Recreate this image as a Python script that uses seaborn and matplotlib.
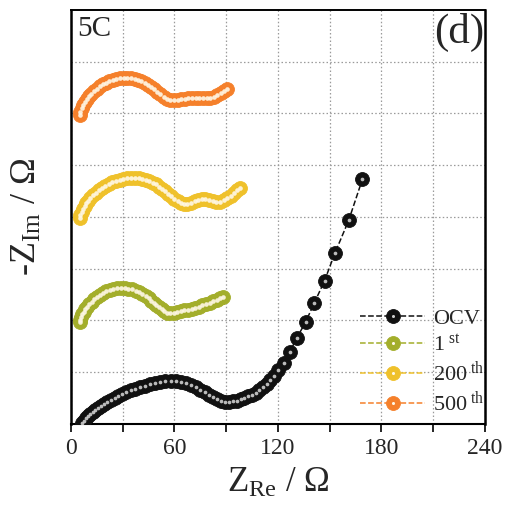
import numpy as np
import pandas as pd
import matplotlib
matplotlib.use('Agg')
import matplotlib.pyplot as plt
from matplotlib.lines import Line2D
from matplotlib.legend_handler import HandlerTuple
import seaborn as sns

# Nyquist data (Z_Re, -Z_Im), curves are stacked vertically
ocv_x = [6.5, 7.6, 8.8, 10.0, 11.3, 12.7, 14.2, 15.8, 17.5, 19.3, 21.2, 23.2, 25.3, 27.5, 29.8,
         32.2, 34.7, 37.3, 40.0, 42.8, 45.7, 48.7, 51.7, 54.8, 57.9, 61.0, 64.0, 66.9, 69.7, 72.4,
         75.0, 77.5, 79.9, 82.2, 84.5, 86.8, 89.1, 91.4, 93.7, 96.0, 98.3, 100.6, 102.8, 105.0,
         107.2, 109.3, 111.4, 113.5, 115.6, 117.8, 120.3, 123.4, 127, 131, 136, 141, 147, 153, 161, 169]
ocv_y = [0.8, 2.0, 3.2, 4.4, 5.6, 6.8, 8.0, 9.2, 10.4, 11.6, 12.8, 14.0, 15.2, 16.3, 17.4,
         18.5, 19.5, 20.5, 21.4, 22.3, 23.1, 23.8, 24.4, 24.8, 25.0, 24.9, 24.5, 23.7, 22.6, 21.3,
         19.8, 18.3, 16.9, 15.6, 14.4, 13.4, 12.9, 12.8, 13.1, 13.6, 14.3, 15.1, 16.0, 17.0,
         18.2, 19.6, 21.2, 23.0, 25.2, 27.8, 31.0, 35.5, 42, 50, 59, 70, 83, 99, 118, 142]

c1_x = [5.0, 5.4, 6.0, 6.7, 7.5, 8.4, 9.5, 10.7, 12.0, 13.5, 15.1, 16.8, 18.6, 20.5, 22.5, 24.6,
        26.7, 28.9, 31.1, 33.3, 35.5, 37.6, 39.6, 41.5, 43.3, 45.0, 46.6, 48.1, 49.6, 51.1, 52.6,
        54.2, 55.9, 57.7, 59.6, 61.6, 63.6, 65.7, 67.8, 69.9, 72.0, 74.1, 76.2, 78.3, 80.4, 82.5,
        84.6, 86.7, 88.0]
c1_y = [59.0, 60.5, 62.0, 63.5, 65.0, 66.5, 68.0, 69.5, 70.9, 72.3, 73.6, 74.8, 75.9, 76.8, 77.6,
        78.2, 78.6, 78.8, 78.8, 78.5, 78.0, 77.2, 76.3, 75.2, 74.0, 72.8, 71.5, 70.2, 68.9, 67.6,
        66.4, 65.3, 64.5, 64.2, 64.4, 64.8, 65.3, 65.8, 66.3, 66.8, 67.4, 68.0, 68.7, 69.5, 70.3,
        71.2, 72.1, 73.0, 73.6]

c200_x = [5.0, 5.5, 6.2, 7.0, 7.9, 8.9, 10.0, 11.3, 12.8, 14.4, 16.1, 17.9, 19.8, 21.8, 23.9,
          26.0, 28.2, 30.4, 32.6, 34.8, 37.0, 39.2, 41.3, 43.4, 45.4, 47.3, 49.2, 51.0, 52.8, 54.6,
          56.4, 58.2, 60.0, 61.8, 63.6, 65.5, 67.5, 69.6, 71.7, 73.8, 75.9, 78.0, 80.1, 82.2, 84.3,
          86.4, 88.5, 90.6, 92.6, 94.6, 96.5, 98.0]
c200_y = [119.4, 121.0, 122.7, 124.4, 126.1, 127.8, 129.4, 131.0, 132.6, 134.0, 135.4, 136.7,
          137.9, 139.0, 140.0, 140.9, 141.6, 142.2, 142.6, 142.8, 142.8, 142.6, 142.2, 141.6,
          140.8, 139.9, 138.8, 137.6, 136.3, 134.9, 133.5, 132.0, 130.5, 129.0, 127.8, 127.2,
          127.4, 128.2, 129.2, 130.0, 130.4, 130.3, 129.8, 129.2, 128.8, 128.9, 129.6, 130.8,
          132.3, 134.0, 135.6, 136.8]

c500_x = [5.0, 5.5, 6.2, 7.0, 8.0, 9.1, 10.4, 11.8, 13.3, 14.9, 16.6, 18.4, 20.3, 22.3, 24.3,
          26.4, 28.5, 30.6, 32.7, 34.8, 36.9, 38.9, 40.9, 42.8, 44.7, 46.5, 48.3, 50.1, 51.9, 53.7,
          55.6, 57.6, 59.7, 61.8, 63.9, 66.0, 68.1, 70.2, 72.3, 74.4, 76.5, 78.6, 80.7, 82.8, 84.9,
          87.0, 89.0, 90.5]
c500_y = [179.1, 181.0, 182.9, 184.8, 186.6, 188.3, 189.9, 191.5, 193.0, 194.4, 195.7, 196.8,
          197.8, 198.7, 199.4, 199.9, 200.3, 200.5, 200.5, 200.3, 199.9, 199.3, 198.6, 197.7,
          196.6, 195.4, 194.1, 192.6, 191.0, 189.4, 188.2, 187.6, 187.6, 187.9, 188.3, 188.6,
          188.8, 188.9, 188.9, 188.8, 188.8, 188.9, 189.2, 189.7, 190.5, 191.7, 193.1, 194.4]

labels = ['OCV', '1$^{\\ \\rm st}$', '200$^{\\ \\rm th}$', '500$^{\\ \\rm th}$']
colors = ['#111111', '#a3ae2b', '#efc12b', '#f5802b']
xticks = [0, 60, 120, 180, 240]

sns.set_style('ticks')
plt.rcParams['font.family'] = ['Liberation Serif', 'DejaVu Serif']
plt.rcParams['mathtext.fontset'] = 'custom'
plt.rcParams['mathtext.rm'] = 'Liberation Serif'
plt.rcParams['mathtext.it'] = 'Liberation Serif:italic'

fig = plt.figure(figsize=(5.1, 5.18), dpi=100)
ax = fig.add_axes([0.139, 0.1815, 0.812, 0.7995])

series = [(ocv_x, ocv_y), (c1_x, c1_y), (c200_x, c200_y), (c500_x, c500_y)]
handles = []
for (xs, ys), lab, col in zip(series, labels, colors):
    df = pd.DataFrame({'x': xs, 'y': ys})
    sns.lineplot(data=df, x='x', y='y', sort=False, estimator=None, ax=ax,
                 color=col, linestyle='--', linewidth=1.1, marker='o', markersize=10,
                 markeredgecolor=col, markeredgewidth=0.6, legend=False, zorder=3)
    is_ocv = lab == 'OCV'
    hl_col = '#cfcfcf' if is_ocv else '#fff8e8'
    hl_s = 7 if is_ocv else 11
    sns.scatterplot(data=df, x='x', y='y', ax=ax, color=hl_col, s=hl_s, linewidth=0,
                    alpha=0.9, zorder=4, legend=False)
    main = Line2D([], [], color=col, linestyle='--', linewidth=1.1, marker='o',
                  markersize=10, markerfacecolor=col, markeredgecolor=col, markeredgewidth=0.6)
    hl = Line2D([], [], linestyle='none', marker='o', markersize=2.2,
                markerfacecolor=hl_col, markeredgewidth=0)
    handles.append((main, hl))

ax.set_xlim(0, 240)
ax.set_ylim(0, 240)
ax.set_xticks(xticks)
ax.set_xticks([30, 90, 150, 210], minor=True)
ax.set_yticks(np.arange(30, 240, 30))
ax.set_yticklabels([])
ax.tick_params(axis='x', which='both', direction='out', length=6, width=1.2,
               labelsize=17, color='black', pad=4)
ax.tick_params(axis='y', length=0)
ax.grid(True, which='both', axis='x', color='#9a9a9a', linestyle=(0, (1.2, 1.8)), linewidth=0.9)
ax.grid(True, which='major', axis='y', color='#9a9a9a', linestyle=(0, (1.2, 1.8)), linewidth=0.9)
ax.set_axisbelow(True)
for side, w in zip(['left', 'bottom', 'top', 'right'], [1.8, 1.5, 1.4, 1.8]):
    ax.spines[side].set_visible(True)
    ax.spines[side].set_linewidth(w)
    ax.spines[side].set_color('black')

ax.set_xlabel('Z$_{\\rm Re}$ / \u03a9', fontsize=25, labelpad=6)
ax.set_ylabel('-Z$_{\\rm Im}$ / \u03a9', fontsize=26, labelpad=16)

ax.text(0.016, 0.985, '5C', transform=ax.transAxes, fontsize=21, ha='left', va='top')
ax.text(0.998, 0.993, '(d)', transform=ax.transAxes, fontsize=31, ha='right', va='top')

ax.legend(handles, labels, handler_map={tuple: HandlerTuple(ndivide=1, pad=0)},
          loc='lower right', bbox_to_anchor=(1.035, -0.018), frameon=False, fontsize=16,
          handlelength=2.9, handletextpad=0.35, labelspacing=0.22, borderaxespad=0.3)

fig.savefig('out.png', dpi=100)
